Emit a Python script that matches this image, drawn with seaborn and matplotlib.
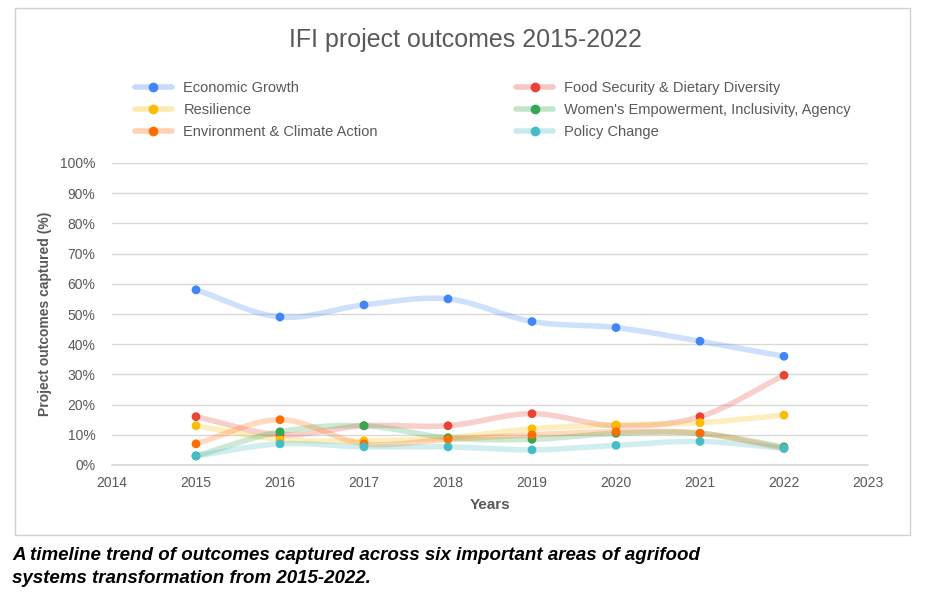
import numpy as np
import matplotlib.pyplot as plt
import seaborn as sns
from matplotlib.patches import Rectangle
from matplotlib.lines import Line2D
from matplotlib.legend_handler import HandlerTuple

sns.set_theme(style="white")
plt.rcParams["font.family"] = ["Liberation Sans", "DejaVu Sans"]

years = [2015, 2016, 2017, 2018, 2019, 2020, 2021, 2022]
economic = [58, 49, 53, 55, 47.5, 45.5, 41, 36]
food = [16, 10, 13, 13, 17, 13, 16, 29.7]
resilience = [13, 8.5, 8, 9, 12, 13.3, 14, 16.5]
women = [3, 11, 13, 9, 8.5, 10.5, 10.5, 6]
environment = [7, 15, 7, 8.5, 10, 11, 10.5, 5.5]
policy = [3, 7, 6, 6, 5, 6.5, 7.8, 5.5]

series = [
    ("Economic Growth", economic, "#4285f4"),
    ("Food Security & Dietary Diversity", food, "#ea4335"),
    ("Resilience", resilience, "#fbbc04"),
    ("Women's Empowerment, Inclusivity, Agency", women, "#34a853"),
    ("Environment & Climate Action", environment, "#ff6d01"),
    ("Policy Change", policy, "#46bdc6"),
]


def catmull(x, y, n=30):
    x = np.asarray(x, float)
    y = np.asarray(y, float)
    px = np.concatenate([[2 * x[0] - x[1]], x, [2 * x[-1] - x[-2]]])
    py = np.concatenate([[2 * y[0] - y[1]], y, [2 * y[-1] - y[-2]]])
    xs, ys = [], []
    t = np.linspace(0, 1, n)
    for i in range(1, len(px) - 2):
        for p, out in ((px, xs), (py, ys)):
            p0, p1, p2, p3 = p[i - 1], p[i], p[i + 1], p[i + 2]
            out.append(0.5 * (2 * p1 + (-p0 + p2) * t
                              + (2 * p0 - 5 * p1 + 4 * p2 - p3) * t ** 2
                              + (-p0 + 3 * p1 - 3 * p2 + p3) * t ** 3))
    return np.concatenate(xs), np.concatenate(ys)


fig = plt.figure(figsize=(9.3, 6.05), dpi=100)
fig.patches.append(Rectangle((15 / 930, 1 - 535 / 605), 895 / 930, 527 / 605,
                             transform=fig.transFigure, fill=False,
                             edgecolor="#d0d0d0", lw=1))
ax = fig.add_axes([112 / 930, 1 - 465 / 605, 756 / 930, 302 / 605])

handles = []
for name, vals, col in series:
    sx, sy = catmull(years, vals)
    ax.plot(sx, sy, color=col, alpha=0.25, lw=4, solid_capstyle="round")
    sns.scatterplot(x=years, y=vals, color=col, s=40, ax=ax, zorder=3,
                    edgecolor="none")
    line = Line2D([], [], color=col, lw=4, alpha=0.3)
    dot = Line2D([], [], color=col, lw=0, marker="o", markersize=6)
    handles.append((line, dot))

ax.set_xlim(2014, 2023)
ax.set_ylim(0, 100)
ax.set_xticks(range(2014, 2024))
ax.set_yticks(range(0, 101, 10))
ax.set_yticklabels([f"{v}%" for v in range(0, 101, 10)])
ax.yaxis.grid(True, color="#d9d9d9", lw=1)
for s in ["top", "right", "left"]:
    ax.spines[s].set_visible(False)
ax.spines["bottom"].set_color("#d9d9d9")
ax.tick_params(labelsize=10, colors="#595959", length=0)
ax.tick_params(axis="x", pad=8)
ax.tick_params(axis="y", pad=12)
ax.set_xlabel("Years", fontsize=11, fontweight="bold", color="#595959",
              labelpad=6)
ax.set_ylabel("Project outcomes captured (%)", fontsize=10,
              fontweight="bold", color="#595959", labelpad=6)

fig.text(0.5, 1 - 40 / 605, "IFI project outcomes 2015-2022", ha="center",
         va="center", fontsize=18, color="#595959")
order = [0, 2, 4, 1, 3, 5]
fig.legend([handles[i] for i in order], [series[i][0] for i in order],
           handler_map={tuple: HandlerTuple(ndivide=None, pad=-2.5)},
           ncol=2, loc="upper left", bbox_to_anchor=(122 / 930, 1 - 68 / 605),
           frameon=False, fontsize=10.5, labelcolor="#595959",
           handlelength=2.5, columnspacing=9.5, labelspacing=0.55)

fig.text(12 / 930, 1 - 567 / 605,
         "A timeline trend of outcomes captured across six important areas of agrifood\n"
         "systems transformation from 2015-2022.",
         ha="left", va="center", fontsize=13.5, fontweight="bold",
         style="italic", color="black", linespacing=1.45)

fig.savefig("out.png", dpi=100)
